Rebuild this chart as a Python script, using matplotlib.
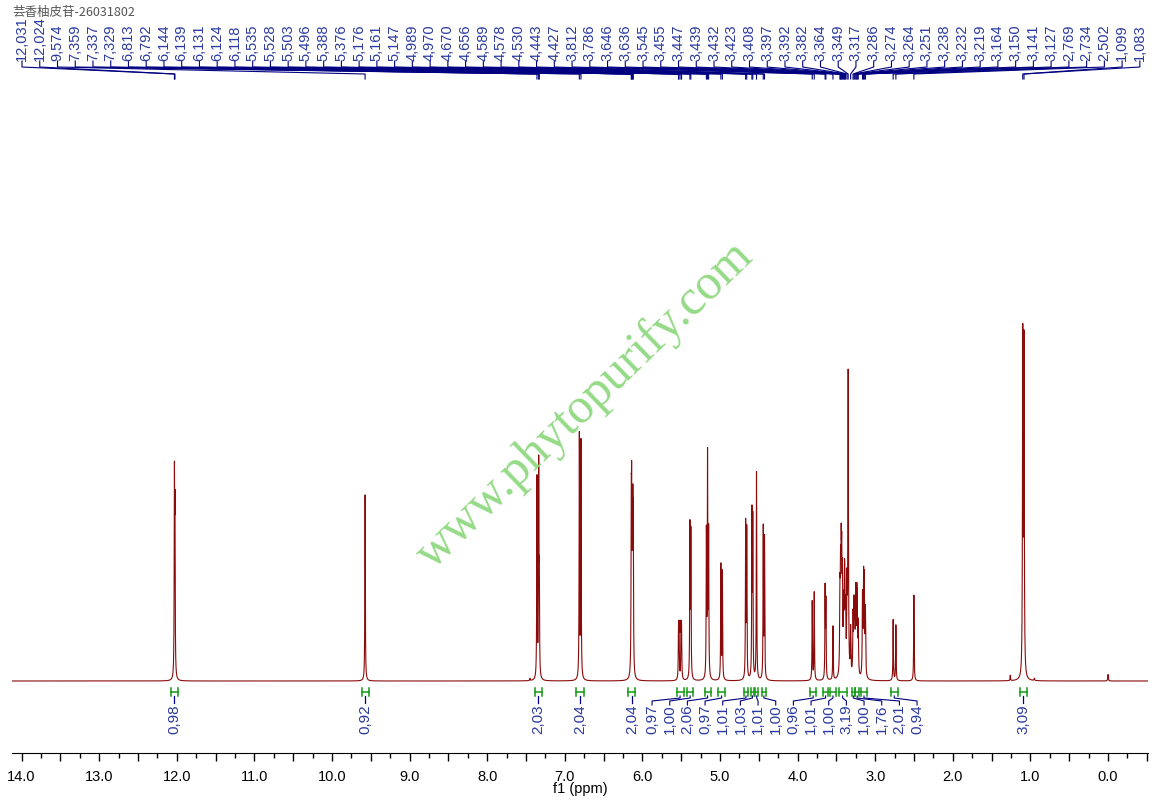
import numpy as np
import matplotlib.pyplot as plt
from matplotlib.ticker import MultipleLocator, FuncFormatter

plt.rcParams['font.family'] = ['Liberation Sans', 'Noto Sans CJK SC', 'DejaVu Sans']

title = "芸香柚皮苷-26031802"

# picked peaks (ppm) and their heights relative to the 1.09 ppm line
shifts = [12.031, 12.024, 9.574, 7.359, 7.337, 7.329, 6.813, 6.792,
          6.144, 6.139, 6.131, 6.124, 6.118, 5.535, 5.528, 5.503, 5.496,
          5.388, 5.376, 5.176, 5.161, 5.147, 4.989, 4.970, 4.670, 4.656,
          4.589, 4.578, 4.530, 4.443, 4.427, 3.812, 3.786, 3.646, 3.636,
          3.545, 3.455, 3.447, 3.439, 3.432, 3.423, 3.408, 3.397, 3.392,
          3.382, 3.364, 3.349, 3.317, 3.286, 3.274, 3.264, 3.251, 3.238,
          3.232, 3.219, 3.164, 3.150, 3.141, 3.127, 2.769, 2.734, 2.502,
          1.099, 1.083]
heights = [0.53, 0.43, 0.52, 0.56, 0.58, 0.25, 0.68, 0.66,
           0.40, 0.42, 0.24, 0.38, 0.38, 0.13, 0.14, 0.14, 0.13,
           0.42, 0.40, 0.40, 0.61, 0.40, 0.32, 0.30, 0.43, 0.41,
           0.45, 0.43, 0.58, 0.42, 0.39, 0.22, 0.245, 0.25, 0.21,
           0.15, 0.21, 0.24, 0.28, 0.26, 0.24, 0.17, 0.20, 0.18,
           0.16, 0.23, 0.84, 0.13, 0.16, 0.18, 0.16, 0.22, 0.18,
           0.16, 0.14, 0.22, 0.25, 0.24, 0.18, 0.17, 0.155, 0.24,
           0.94, 0.92]

# small unlabeled bumps (TMS, impurities)
minor_shifts = [7.45, 1.26, 0.95, 0.0]
minor_heights = [0.006, 0.015, 0.006, 0.018]

# integrals: range (ppm) and value
int_lo = [11.98, 9.52, 7.29, 6.75, 6.09, 5.47, 5.35, 5.12, 4.94, 4.64,
          4.565, 4.505, 4.41, 3.76, 3.61, 3.51, 3.37, 3.265, 3.205, 3.11,
          2.71, 1.04]
int_hi = [12.08, 9.62, 7.39, 6.85, 6.18, 5.56, 5.42, 5.20, 5.02, 4.69,
          4.60, 4.55, 4.46, 3.84, 3.67, 3.58, 3.47, 3.30, 3.26, 3.18,
          2.80, 1.14]
int_val = [0.98, 0.92, 2.03, 2.04, 2.04, 0.97, 1.00, 2.06, 0.97, 1.01,
           1.03, 1.01, 1.00, 0.96, 1.01, 1.00, 3.19, 1.00, 1.76, 2.01,
           0.94, 3.09]

# pixel layout helpers (baseline at y=681 px, tallest line at 323 px)
def yd(py):
    return (681 - py) / 358.0

ppm = np.linspace(14.2, -0.6, 60000)
spec = np.zeros_like(ppm)
for s, h in zip(shifts + minor_shifts, heights + minor_heights):
    w = 0.0042 if (3.1 < s < 3.5 or s < 1.2) else 0.0034
    spec += h / (1 + ((ppm - s) / w) ** 2)

fig = plt.figure(figsize=(11.6, 8.1), dpi=100)
ax = fig.add_axes([12 / 1160, 57 / 810, 1136 / 1160, 753 / 810])

red = '#8b0a0a'
navy = '#000080'
blue = '#2a3a9e'
green = '#139a13'

ax.plot(ppm, spec, color=red, lw=0.8)

# peak labels at the top, evenly spread
lab_x = np.linspace(13.995, -0.41, len(shifts))
for lx, s in zip(lab_x, shifts):
    ax.text(lx, yd(61), f"{s:.3f}".replace('.', ','), rotation=90,
            ha='center', va='bottom', fontsize=10.5, color=blue)
    ax.plot([lx, lx, s, s], [yd(61), yd(67), yd(74), yd(79)],
            color=navy, lw=0.8)

# integrals
single = [0, 1, 2, 3, 4, 21]
cluster_x = np.linspace(5.876, 2.461, 16)
k = 0
for i, (lo, hi, v) in enumerate(zip(int_lo, int_hi, int_val)):
    c = (lo + hi) / 2
    ax.plot([lo, hi], [yd(692), yd(692)], color=green, lw=1.1)
    ax.plot([lo, lo], [yd(688), yd(696)], color=green, lw=1.1)
    ax.plot([hi, hi], [yd(688), yd(696)], color=green, lw=1.1)
    if i in single:
        lx = c
        ax.plot([c, c], [yd(696), yd(703)], color=navy, lw=0.9)
    else:
        lx = cluster_x[k]
        k += 1
        ax.plot([lx, lx, c, c], [yd(705), yd(701), yd(698), yd(696)],
                color=navy, lw=0.8)
    ax.text(lx, yd(704), f"{v:.2f}".replace('.', ','), rotation=90,
            ha='center', va='top', fontsize=11, color=blue)

ax.set_xlim(14.124, -0.515)
ax.set_ylim(yd(753), yd(0))
for sp in ['left', 'right', 'top']:
    ax.spines[sp].set_visible(False)
ax.set_yticks([])
ax.xaxis.set_major_locator(MultipleLocator(0.5))
ax.xaxis.set_minor_locator(MultipleLocator(0.25))
ax.xaxis.set_major_formatter(FuncFormatter(
    lambda v, p: f"{v:.1f}" if abs(v - round(v)) < 1e-6 else ""))
ax.tick_params(axis='x', which='major', length=6, width=1, labelsize=10.5, pad=6)
ax.tick_params(axis='x', which='minor', length=3.5, width=1)
ax.set_xlabel('f1 (ppm)', fontsize=10.5, labelpad=-1)

fig.text(0.5045, 0.5, 'www.phytopurify.com', rotation=44, rotation_mode='anchor',
         ha='center', va='center', fontsize=36, color='#8fd880',
         family=['Liberation Serif'], alpha=0.95)

fig.text(12 / 1160, 1 - 12 / 810, title, fontsize=9, color='#555555',
         ha='left', va='center', family=['Noto Sans CJK SC', 'DejaVu Sans'])

fig.savefig('out.png', dpi=100)
